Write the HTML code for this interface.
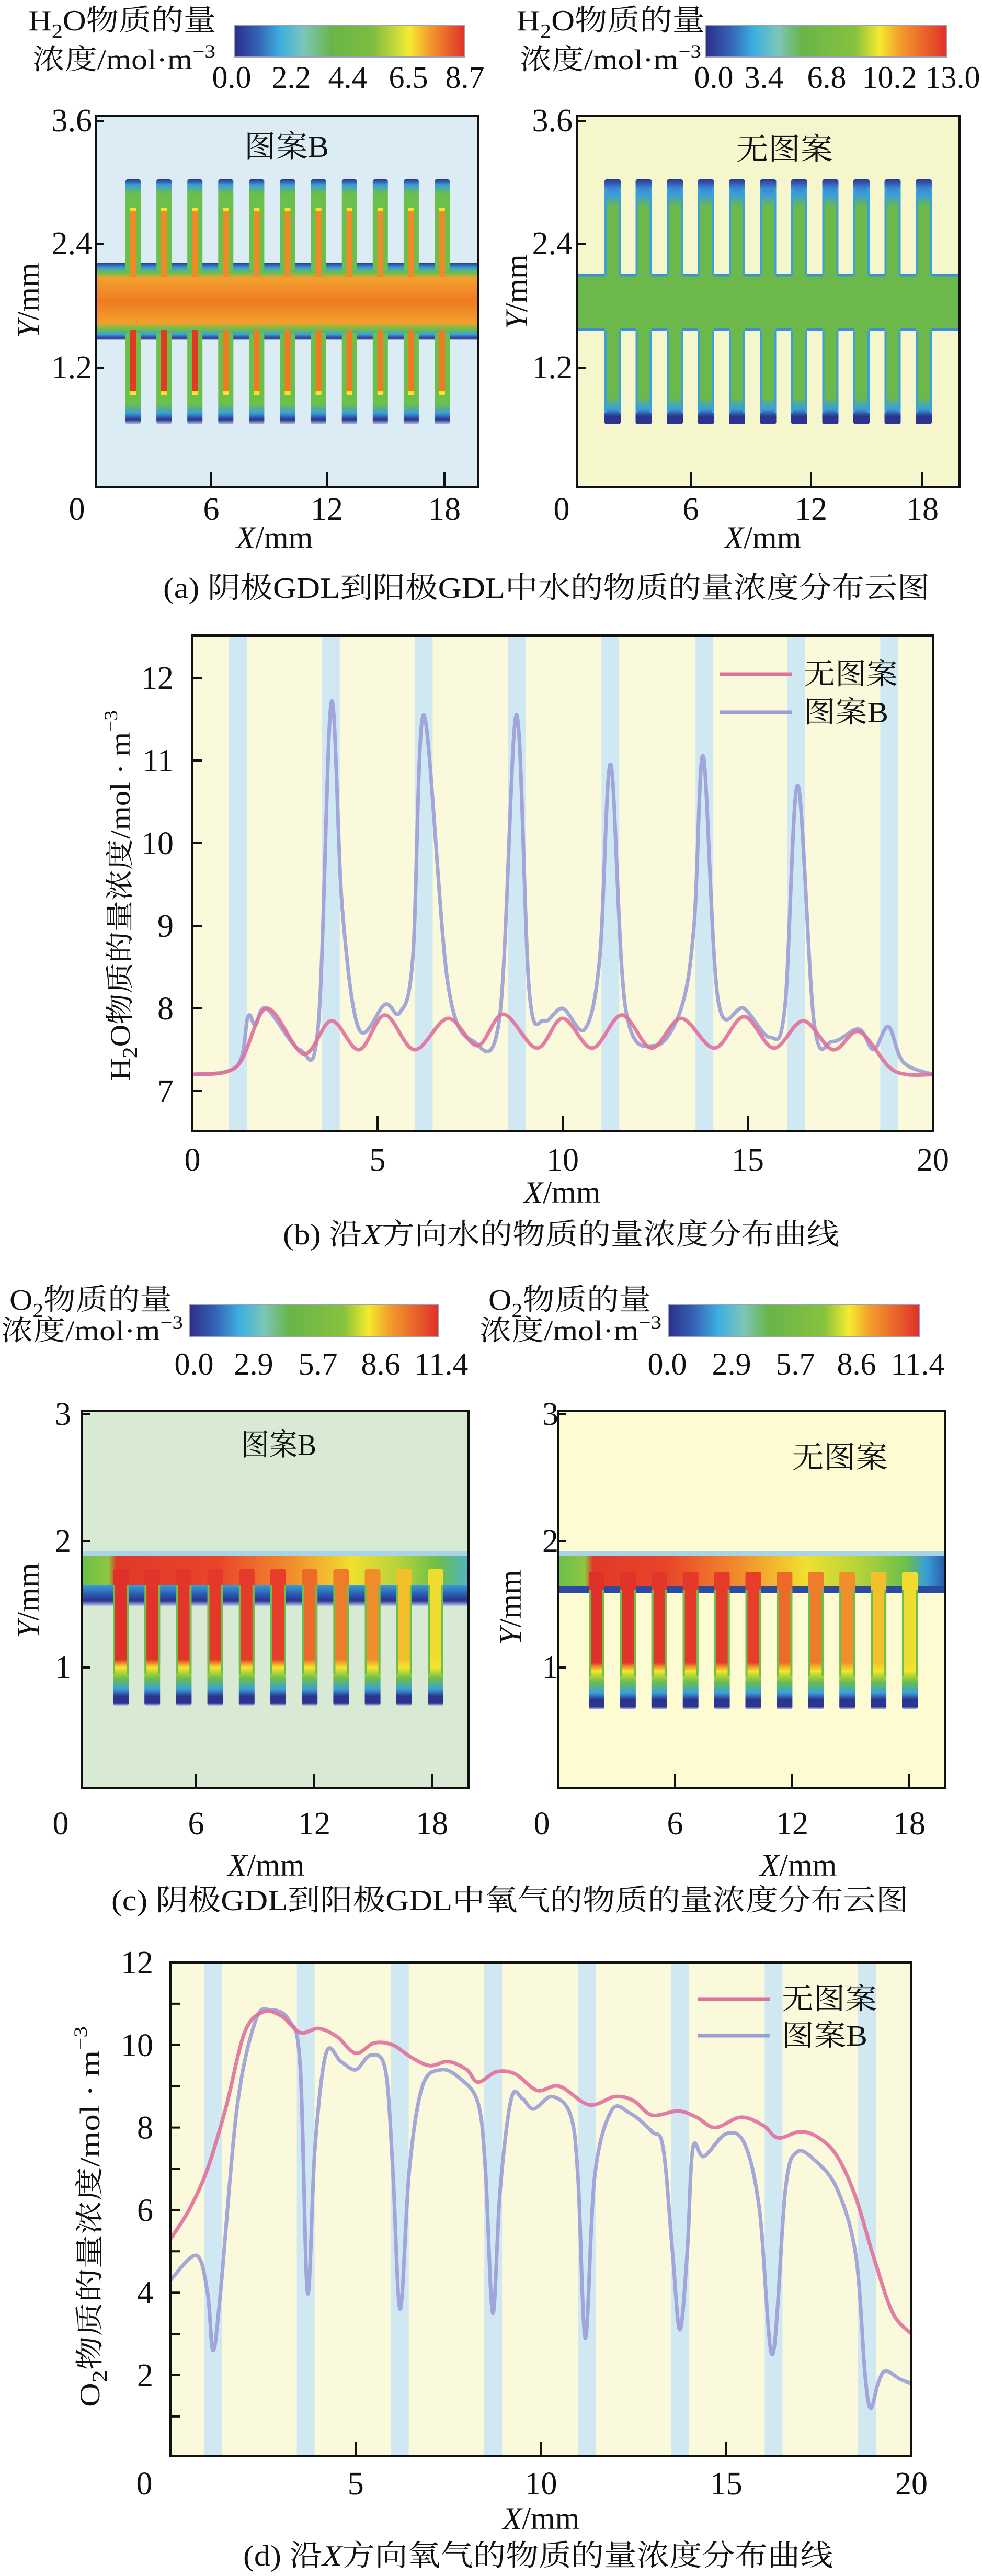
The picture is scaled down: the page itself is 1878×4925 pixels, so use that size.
<!DOCTYPE html>
<html><head><meta charset="utf-8">
<style>
html,body{margin:0;padding:0;background:#fff;}
svg{display:block;}
text{font-family:"Liberation Serif","Noto Serif CJK SC",serif;fill:#111;}
</style></head>
<body>
<svg id="root" width="1878" height="4925" viewBox="0 0 1878 4925" xmlns="http://www.w3.org/2000/svg">
<defs>
<linearGradient id="jetA" x1="0" x2="1" y1="0" y2="0">
<stop offset="0" stop-color="#2b2f8a"/><stop offset="0.1" stop-color="#3561b5"/><stop offset="0.2" stop-color="#3db0e0"/><stop offset="0.3" stop-color="#7cc6b8"/><stop offset="0.42" stop-color="#69b548"/><stop offset="0.6" stop-color="#7dbd3f"/><stop offset="0.72" stop-color="#d5e03a"/><stop offset="0.76" stop-color="#f6ea2e"/><stop offset="0.84" stop-color="#f3a02d"/><stop offset="1" stop-color="#e0302a"/>
</linearGradient>
<linearGradient id="jetB" x1="0" x2="1" y1="0" y2="0">
<stop offset="0" stop-color="#2b2f8a"/><stop offset="0.1" stop-color="#3561b5"/><stop offset="0.2" stop-color="#3db0e0"/><stop offset="0.3" stop-color="#7cc6b8"/><stop offset="0.4" stop-color="#69b548"/><stop offset="0.62" stop-color="#86c23e"/><stop offset="0.72" stop-color="#f6ea2e"/><stop offset="0.8" stop-color="#f3a02d"/><stop offset="1" stop-color="#e0302a"/>
</linearGradient>
<linearGradient id="bandA" x1="0" x2="0" y1="0" y2="1">
<stop offset="0" stop-color="#2b3590"/><stop offset="0.07" stop-color="#3a9fd8"/><stop offset="0.13" stop-color="#6cbf4a"/><stop offset="0.2" stop-color="#f3a030"/><stop offset="0.5" stop-color="#f07a22"/><stop offset="0.78" stop-color="#f3a030"/><stop offset="0.86" stop-color="#6cbf4a"/><stop offset="0.93" stop-color="#3a9fd8"/><stop offset="0.98" stop-color="#2b3590"/><stop offset="1" stop-color="#b8c8e8"/>
</linearGradient>
<linearGradient id="upFingA" x1="0" x2="0" y1="0" y2="1">
<stop offset="0" stop-color="#2b3590"/><stop offset="0.06" stop-color="#3a9fd8"/><stop offset="0.16" stop-color="#6cbf4a"/><stop offset="1" stop-color="#6cbf4a"/>
</linearGradient>
<linearGradient id="lowFingA" x1="0" x2="0" y1="0" y2="1">
<stop offset="0" stop-color="#6cbf4a"/><stop offset="0.78" stop-color="#6cbf4a"/><stop offset="0.88" stop-color="#3a9fd8"/><stop offset="0.95" stop-color="#2b3590"/><stop offset="1" stop-color="#b8c0e0"/>
</linearGradient>
<linearGradient id="upFingR" x1="0" x2="0" y1="0" y2="1">
<stop offset="0" stop-color="#2b3590"/><stop offset="0.08" stop-color="#3a7fd0"/><stop offset="0.16" stop-color="#3aa0d8"/><stop offset="0.28" stop-color="#6cb84a"/><stop offset="1" stop-color="#6cb84a"/>
</linearGradient>
<linearGradient id="lowFingR" x1="0" x2="0" y1="0" y2="1">
<stop offset="0" stop-color="#6cb84a"/><stop offset="0.72" stop-color="#6cb84a"/><stop offset="0.84" stop-color="#3aa0d8"/><stop offset="0.92" stop-color="#2b3590"/><stop offset="1" stop-color="#2b3590"/>
</linearGradient>
<linearGradient id="bandC1" x1="156" x2="896" y1="0" y2="0" gradientUnits="userSpaceOnUse">
<stop offset="0" stop-color="#6cbf4a"/><stop offset="0.07" stop-color="#8cc63f"/><stop offset="0.09" stop-color="#e03a28"/><stop offset="0.35" stop-color="#e8452a"/><stop offset="0.55" stop-color="#f3902d"/><stop offset="0.7" stop-color="#f0e030"/><stop offset="0.82" stop-color="#b5d23a"/><stop offset="0.92" stop-color="#6cbf4a"/><stop offset="1" stop-color="#4fb4c8"/>
</linearGradient>
<linearGradient id="bandC2" x1="1067" x2="1808" y1="0" y2="0" gradientUnits="userSpaceOnUse">
<stop offset="0" stop-color="#6cbf4a"/><stop offset="0.07" stop-color="#8cc63f"/><stop offset="0.09" stop-color="#e03a28"/><stop offset="0.28" stop-color="#e8452a"/><stop offset="0.48" stop-color="#f3902d"/><stop offset="0.64" stop-color="#f0e030"/><stop offset="0.78" stop-color="#b5d23a"/><stop offset="0.9" stop-color="#6cbf4a"/><stop offset="0.95" stop-color="#3a9fd8"/><stop offset="1" stop-color="#2b5aa8"/>
</linearGradient>
<linearGradient id="lowStrip" x1="0" x2="0" y1="0" y2="1">
<stop offset="0" stop-color="#3aa0d8"/><stop offset="0.45" stop-color="#2b5ab0"/><stop offset="0.75" stop-color="#2b3590"/><stop offset="1" stop-color="#b8c8e8"/>
</linearGradient>
</defs>
<g id="layer"></g>
</svg>
<script>
// ---------- chart data (b): H2O along X ----------
const h2oNoPatternX = [0,1.2,2.0,3.0,3.75,4.5,5.2,6.0,6.9,7.7,8.4,9.3,10.0,10.8,11.6,12.4,13.2,14.1,14.9,15.7,16.5,17.3,18.0,18.8,19.3,20];
const h2oNoPatternY = [7.2,7.3,8.0,7.45,7.85,7.5,7.92,7.5,7.88,7.55,7.93,7.52,7.88,7.52,7.92,7.52,7.88,7.52,7.9,7.52,7.85,7.5,7.72,7.3,7.2,7.2];
const h2oPatternBX = [0,1.2,1.5,1.7,2.0,2.9,3.4,3.75,4.05,4.5,5.2,5.6,5.95,6.25,6.9,7.6,8.3,8.75,9.1,9.5,10.0,10.6,11.0,11.3,11.7,12.5,13.2,13.55,13.8,14.2,14.9,15.6,16.0,16.35,16.8,17.3,18.0,18.4,18.8,19.2,20];
const h2oPatternBY = [7.2,7.3,7.9,7.8,8.0,7.5,7.8,11.7,9.2,7.75,8.05,7.95,8.6,11.55,8.3,7.6,7.9,11.55,8.2,7.85,8.0,7.75,8.6,10.95,8.0,7.55,8.0,9.0,11.05,8.1,8.0,7.65,8.0,10.7,7.8,7.6,7.75,7.5,7.78,7.35,7.2];
const h2oXTicks = [0,5,10,15,20];
const h2oYTicks = [7,8,9,10,11,12];
// ---------- chart data (d): O2 along X ----------
const o2NoPatternX = [0,0.5,1.0,1.5,2.0,2.5,3.0,3.5,4.0,4.5,5.0,5.5,6.0,6.5,7.0,7.5,8.0,8.3,8.8,9.3,9.9,10.5,11.3,12.0,12.5,13.0,13.7,14.2,14.7,15.4,16.0,16.4,17.0,17.5,18.0,18.5,19.0,19.5,20];
const o2NoPatternY = [5.3,6.0,7.0,8.5,10.3,10.8,10.7,10.3,10.4,10.2,9.8,10.05,10.0,9.7,9.5,9.6,9.4,9.1,9.35,9.3,8.9,9.0,8.55,8.75,8.65,8.3,8.4,8.25,8.0,8.25,8.05,7.75,7.9,7.75,7.3,6.3,4.8,3.5,3.0];
const o2PatternBX = [0,0.7,1.0,1.15,1.35,1.8,2.3,2.7,3.2,3.5,3.7,3.9,4.2,4.6,5.0,5.4,5.8,6.0,6.2,6.45,6.8,7.3,7.8,8.3,8.5,8.7,8.9,9.2,9.5,9.8,10.3,10.8,11.0,11.2,11.45,11.9,12.4,13.0,13.3,13.55,13.75,13.95,14.1,14.4,15.0,15.5,15.9,16.25,16.6,16.9,17.4,18.0,18.5,18.75,18.9,19.1,19.3,19.7,20];
const o2PatternBY = [4.3,4.9,4.0,2.6,4.0,8.5,10.6,10.85,10.6,9.5,4.0,7.5,9.8,9.6,9.4,9.75,9.4,7.0,3.6,7.0,9.0,9.4,9.2,8.6,7.0,3.5,6.5,8.7,8.7,8.45,8.75,8.3,6.8,2.9,6.8,8.4,8.35,7.9,7.5,5.0,3.1,5.0,7.5,7.3,7.85,7.6,6.0,2.5,6.5,7.4,7.2,6.5,4.9,2.0,1.2,1.8,2.1,1.9,1.8];
const o2XTicks = [0,5,10,15,20];
const o2YTicks = [1,2,3,4,5,6,7,8,9,10,11,12];
const o2YLabels = [2,4,6,8,10,12];
// channel (pattern) positions along X in mm
const channelsB = [1.23,3.74,6.25,8.76,11.29,13.83,16.31,18.82];
const channelsD = [1.15,3.65,6.19,8.71,11.24,13.76,16.28,18.8];

const NS = "http://www.w3.org/2000/svg";
const layer = document.getElementById('layer');
function mk(tag, attrs, parent){
  const e = document.createElementNS(NS, tag);
  for (const k in attrs) e.setAttribute(k, attrs[k]);
  (parent||layer).appendChild(e);
  return e;
}
function txt(s, x, y, size, opts, parent){
  opts = opts||{};
  const e = mk('text', {x:x, y:y, 'font-size':size, 'text-anchor':opts.anchor||'start'}, parent);
  if (opts.len){ e.setAttribute('textLength', opts.len); e.setAttribute('lengthAdjust','spacingAndGlyphs'); }
  if (opts.transform) e.setAttribute('transform', opts.transform);
  if (opts.weight) e.setAttribute('font-weight', opts.weight);
  e.innerHTML = s;
  return e;
}
function smoothPath(xs, ys, sx, sy){
  const p = xs.map((v,i)=>[sx(v), sy(ys[i])]);
  let d = 'M'+p[0][0].toFixed(1)+','+p[0][1].toFixed(1);
  for (let i=0;i<p.length-1;i++){
    const p0=p[i-1]||p[i], p1=p[i], p2=p[i+1], p3=p[i+2]||p[i+1];
    const t=1/6;
    const c1=[p1[0]+(p2[0]-p0[0])*t, p1[1]+(p2[1]-p0[1])*t];
    const c2=[p2[0]-(p3[0]-p1[0])*t, p2[1]-(p3[1]-p1[1])*t];
    d+=' C'+c1[0].toFixed(1)+','+c1[1].toFixed(1)+' '+c2[0].toFixed(1)+','+c2[1].toFixed(1)+' '+p2[0].toFixed(1)+','+p2[1].toFixed(1);
  }
  return d;
}

// ================= PANEL (a) =================
let e;
e = txt('H<tspan font-size="38" dy="14">2</tspan><tspan dy="-14">O物质的量</tspan>', 54, 58, 56, {len:359});


e = txt('浓度/mol·m<tspan font-size="36" dy="-22">−3</tspan>', 62, 132, 54, {len:350});


e = mk('rect',{x:449,y:49,width:440,height:60,fill:'url(#jetA)',stroke:'#9aa0b8','stroke-width':2});


[['0.0',443],['2.2',557],['4.4',665],['6.5',781],['8.7',889]].forEach(a=>{
  e = txt(a[0], a[1], 168, 60, {anchor:'middle'});
  
  
});
e = txt('H<tspan font-size="38" dy="14">2</tspan><tspan dy="-14">O物质的量</tspan>', 988, 58, 56, {len:360});


e = txt('浓度/mol·m<tspan font-size="36" dy="-22">−3</tspan>', 994, 132, 54, {len:347});


e = mk('rect',{x:1350,y:49,width:461,height:60,fill:'url(#jetB)',stroke:'#9aa0b8','stroke-width':2});


[['0.0',1365],['3.4',1461],['6.8',1581],['10.2',1701],['13.0',1822]].forEach(a=>{
  e = txt(a[0], a[1], 168, 60, {anchor:'middle'});
  
  
});

e = mk('rect',{x:183,y:222,width:731,height:709,fill:'#dcecf4'});


mk('rect',{x:183,y:502,width:731,height:148,fill:'url(#bandA)'});
for (let i=0;i<11;i++){
  const x = 240 + i*59.1;
  mk('rect',{x:x,y:343,width:29,height:175,rx:4,fill:'url(#upFingA)'});
  mk('rect',{x:x+9,y:398,width:11,height:8,fill:'#f5e52b'});
  mk('rect',{x:x+9,y:404,width:11,height:125,fill:'#f08a28'});
  mk('rect',{x:x,y:636,width:29,height:175,rx:4,fill:'url(#lowFingA)'});
  mk('rect',{x:x+9,y:630,width:11,height:118,fill: i<3 ? '#e23a22' : '#f07a22'});
  mk('rect',{x:x+9,y:748,width:11,height:8,fill:'#f5e52b'});
}
e = txt('图案B', 548, 300, 58, {anchor:'middle', len:162});



e = mk('rect',{x:1104,y:222,width:731,height:709,fill:'#f6f6cc'});


mk('rect',{x:1104,y:526,width:731,height:104,fill:'#6cb84a'});
mk('line',{x1:1104,x2:1835,y1:526,y2:526,stroke:'#3a8fd8','stroke-width':5});
mk('line',{x1:1104,x2:1835,y1:630,y2:630,stroke:'#3a8fd8','stroke-width':5});
for (let i=0;i<11;i++){
  const x = 1156 + i*59.5;
  mk('rect',{x:x,y:343,width:31,height:186,rx:4,fill:'url(#upFingR)'});
  mk('line',{x1:x+2,x2:x+2,y1:360,y2:526,stroke:'#3aa0d8','stroke-width':4});
  mk('line',{x1:x+29,x2:x+29,y1:360,y2:526,stroke:'#3aa0d8','stroke-width':4});
  mk('rect',{x:x,y:627,width:31,height:184,rx:4,fill:'url(#lowFingR)'});
  mk('line',{x1:x+2,x2:x+2,y1:632,y2:790,stroke:'#3aa0d8','stroke-width':4});
  mk('line',{x1:x+29,x2:x+29,y1:632,y2:790,stroke:'#3aa0d8','stroke-width':4});
}
e = txt('无图案', 1500, 305, 58, {anchor:'middle', len:185});



function contourAxes(x0, x1, y0, y1, yTicks, xTicks, xTickLblY, yLblX, prefix){
  e = mk('rect',{x:x0,y:y0,width:x1-x0,height:y1-y0,fill:'none',stroke:'#111','stroke-width':4});
  
  
  yTicks.forEach(t=>{
    mk('line',{x1:x0,x2:x0+16,y1:t[1],y2:t[1],stroke:'#111','stroke-width':4});
    e = txt(t[0], yLblX, t[1]+20, 62, {anchor:'end'});
    
    
  });
  xTicks.forEach(t=>{
    if (t[2]) mk('line',{x1:t[1],x2:t[1],y1:y1,y2:y1-28,stroke:'#111','stroke-width':4});
    e = txt(t[0], t[1], xTickLblY, 62, {anchor:'middle'});
    
    
  });
}
contourAxes(183,914,222,931,[['3.6',231],['2.4',466],['1.2',703]],[['0',147,0],['6',404,1],['12',625,1],['18',850,1]],994,176,'contour-a-left');
contourAxes(1104,1835,222,931,[['3.6',231],['2.4',466],['1.2',703]],[['0',1074,0],['6',1321,1],['12',1551,1],['18',1764,1]],994,1095,'contour-a-right');
e = txt('<tspan font-style="italic">Y</tspan>/mm', 0, 0, 60, {anchor:'middle', transform:'translate(74,574) rotate(-90)'});


e = txt('<tspan font-style="italic">Y</tspan>/mm', 0, 0, 60, {anchor:'middle', transform:'translate(1008,558) rotate(-90)'});


e = txt('<tspan font-style="italic">X</tspan>/mm', 525, 1048, 60, {anchor:'middle'});


e = txt('<tspan font-style="italic">X</tspan>/mm', 1459, 1048, 60, {anchor:'middle'});


e = txt('(a) 阴极GDL到阳极GDL中水的物质的量浓度分布云图', 312, 1143, 56, {len:1466});



// ================= CHART (b) =================
const bX0=368, bX1=1784, bY0=1215, bY1=2162;
const bx = v => bX0 + v*(bX1-bX0)/20;
const by = v => 1296 + (12-v)*158;
e = mk('rect',{x:bX0,y:bY0,width:bX1-bX0,height:bY1-bY0,fill:'#fbf9dc'});


channelsB.forEach(c=>{
  e = mk('rect',{x:bx(c)-17,y:bY0,width:34,height:bY1-bY0,fill:'#cfe8f1'});
  
  
});
e = mk('path',{d:smoothPath(h2oPatternBX,h2oPatternBY,bx,by),fill:'none',stroke:'#9b9dd6','stroke-width':7,'stroke-opacity':0.9,'stroke-linejoin':'round'});


e = mk('path',{d:smoothPath(h2oNoPatternX,h2oNoPatternY,bx,by),fill:'none',stroke:'#e0709c','stroke-width':7,'stroke-opacity':0.9,'stroke-linejoin':'round'});


e = mk('rect',{x:bX0,y:bY0,width:bX1-bX0,height:bY1-bY0,fill:'none',stroke:'#111','stroke-width':4});


h2oYTicks.forEach(v=>{
  mk('line',{x1:bX0,x2:bX0+18,y1:by(v),y2:by(v),stroke:'#111','stroke-width':4});
  e = txt(String(v), 332, by(v)+21, 62, {anchor:'end'});
  
  
});
h2oXTicks.forEach(v=>{
  if (v>0 && v<20) mk('line',{x1:bx(v),x2:bx(v),y1:bY1,y2:bY1-28,stroke:'#111','stroke-width':4});
  e = txt(String(v), bx(v), 2238, 62, {anchor:'middle'});
  
  
});
e = txt('<tspan font-style="italic">X</tspan>/mm', 1075, 2300, 60, {anchor:'middle'});


e = txt('H<tspan font-size="40" dy="14">2</tspan><tspan dy="-14">O物质的量浓度/mol · m</tspan><tspan font-size="36" dy="-24">−3</tspan>', 0, 0, 54, {anchor:'middle', len:708, transform:'translate(248,1712) rotate(-90)'});


e = mk('line',{x1:1377,x2:1515,y1:1289,y2:1289,stroke:'#e0709c','stroke-width':7});


e = txt('无图案', 1537, 1308, 56, {len:180});


e = mk('line',{x1:1377,x2:1515,y1:1362,y2:1362,stroke:'#9b9dd6','stroke-width':7});


e = txt('图案B', 1537, 1381, 56, {len:162});


e = txt('(b) 沿<tspan font-style="italic">X</tspan>方向水的物质的量浓度分布曲线', 541, 2379, 56, {len:1064});



// ================= PANEL (c) =================
e = txt('O<tspan font-size="38" dy="14">2</tspan><tspan dy="-14">物质的量</tspan>', 18, 2504, 56, {len:311});


e = txt('浓度/mol·m<tspan font-size="36" dy="-22">−3</tspan>', 2, 2562, 54, {len:348});


e = mk('rect',{x:363,y:2494,width:475,height:62,fill:'url(#jetB)',stroke:'#9aa0b8','stroke-width':2});


[['0.0',371],['2.9',485],['5.7',608],['8.6',728],['11.4',844]].forEach(a=>{
  e = txt(a[0], a[1], 2628, 60, {anchor:'middle'});
  
  
});
e = txt('O<tspan font-size="38" dy="14">2</tspan><tspan dy="-14">物质的量</tspan>', 934, 2504, 56, {len:311});


e = txt('浓度/mol·m<tspan font-size="36" dy="-22">−3</tspan>', 917, 2562, 54, {len:348});


e = mk('rect',{x:1278,y:2494,width:480,height:62,fill:'url(#jetB)',stroke:'#9aa0b8','stroke-width':2});


[['0.0',1276],['2.9',1399],['5.7',1521],['8.6',1638],['11.4',1755]].forEach(a=>{
  e = txt(a[0], a[1], 2628, 60, {anchor:'middle'});
  
  
});
function mix(a,b,t){
  const pa=[parseInt(a.slice(1,3),16),parseInt(a.slice(3,5),16),parseInt(a.slice(5,7),16)];
  const pb=[parseInt(b.slice(1,3),16),parseInt(b.slice(3,5),16),parseInt(b.slice(5,7),16)];
  return 'rgb('+pa.map((v,i)=>Math.round(v+(pb[i]-v)*t)).join(',')+')';
}
function fingerGrad(id, top){
  const defs = document.querySelector('defs');
  const g = document.createElementNS(NS,'linearGradient');
  g.setAttribute('id',id); g.setAttribute('x1','0'); g.setAttribute('x2','0'); g.setAttribute('y1','0'); g.setAttribute('y2','1');
  [[0,top],[0.66,top],[0.72,'#f5e52b'],[0.8,'#6cbf4a'],[0.88,'#3aa0d8'],[0.93,'#2b3590'],[0.98,'#2b3590'],[1,'#c0c8e8']].forEach(s=>{
    const st=document.createElementNS(NS,'stop'); st.setAttribute('offset',s[0]); st.setAttribute('stop-color',s[1]); g.appendChild(st);
  });
  defs.appendChild(g);
}
function topColor(i){
  if (i<6) return mix('#e0302a','#e8402a',i/6);
  if (i<9) return mix('#ec6a2a','#f3a02d',(i-6)/3);
  return mix('#f3c02d','#eedc30',(i-9));
}
e = mk('rect',{x:156,y:2697,width:740,height:722,fill:'#d8ead3'});


mk('rect',{x:156,y:2966,width:740,height:8,fill:'#a9d4e8'});
mk('rect',{x:156,y:2974,width:740,height:58,fill:'url(#bandC1)'});
mk('rect',{x:156,y:3030,width:740,height:40,fill:'url(#lowStrip)'});
for (let i=0;i<11;i++){
  const x = 216 + i*60.2;
  fingerGrad('fc1_'+i, topColor(i));
  mk('rect',{x:x,y:3000,width:30,height:261,rx:4,fill:'url(#fc1_'+i+')'});
  mk('line',{x1:x+2,x2:x+2,y1:3030,y2:3200,stroke:'#6cbf4a','stroke-width':4});
  mk('line',{x1:x+28,x2:x+28,y1:3030,y2:3200,stroke:'#6cbf4a','stroke-width':4});
}
e = txt('图案B', 533, 2782, 58, {anchor:'middle', len:144});


e = mk('rect',{x:1067,y:2697,width:741,height:722,fill:'#fdfbd2'});


mk('rect',{x:1067,y:2966,width:741,height:8,fill:'#a9d4e8'});
mk('rect',{x:1067,y:2974,width:741,height:62,fill:'url(#bandC2)'});
mk('rect',{x:1067,y:3033,width:741,height:12,fill:'#2b4aa0'});
for (let i=0;i<11;i++){
  const x = 1126 + i*59.9;
  fingerGrad('fc2_'+i, topColor(i));
  mk('rect',{x:x,y:3005,width:30,height:263,rx:4,fill:'url(#fc2_'+i+')'});
  mk('line',{x1:x+2,x2:x+2,y1:3040,y2:3205,stroke:'#6cbf4a','stroke-width':4});
  mk('line',{x1:x+28,x2:x+28,y1:3040,y2:3205,stroke:'#6cbf4a','stroke-width':4});
}
e = txt('无图案', 1606, 2806, 58, {anchor:'middle', len:183});


contourAxes(156,896,2697,3419,[['3',2704],['2',2947],['1',3188]],[['0',116,0],['6',375,1],['12',601,1],['18',826,1]],3507,136,'contour-c-left');
contourAxes(1067,1808,2697,3419,[['3',2704],['2',2947],['1',3188]],[['0',1036,0],['6',1291,1],['12',1515,1],['18',1739,1]],3507,1068,'contour-c-right');
e = txt('<tspan font-style="italic">Y</tspan>/mm', 0, 0, 60, {anchor:'middle', transform:'translate(74,3060) rotate(-90)'});


e = txt('<tspan font-style="italic">Y</tspan>/mm', 0, 0, 60, {anchor:'middle', transform:'translate(996,3073) rotate(-90)'});


e = txt('<tspan font-style="italic">X</tspan>/mm', 509, 3586, 60, {anchor:'middle'});


e = txt('<tspan font-style="italic">X</tspan>/mm', 1527, 3586, 60, {anchor:'middle'});


e = txt('(c) 阴极GDL到阳极GDL中氧气的物质的量浓度分布云图', 213, 3652, 56, {len:1524});



// ================= CHART (d) =================
const dX0=326, dX1=1743, dY0=3752, dY1=4696;
const dx = v => dX0 + v*(dX1-dX0)/20;
const dy = v => dY0 + (12-v)*78.9;
e = mk('rect',{x:dX0,y:dY0,width:dX1-dX0,height:dY1-dY0,fill:'#fbf9dc'});


channelsD.forEach(c=>{
  e = mk('rect',{x:dx(c)-17,y:dY0,width:34,height:dY1-dY0,fill:'#cfe8f1'});
  
  
});
e = mk('path',{d:smoothPath(o2PatternBX,o2PatternBY,dx,dy),fill:'none',stroke:'#9b9dd6','stroke-width':7,'stroke-opacity':0.9,'stroke-linejoin':'round'});


e = mk('path',{d:smoothPath(o2NoPatternX,o2NoPatternY,dx,dy),fill:'none',stroke:'#e0709c','stroke-width':7,'stroke-opacity':0.9,'stroke-linejoin':'round'});


e = mk('rect',{x:dX0,y:dY0,width:dX1-dX0,height:dY1-dY0,fill:'none',stroke:'#111','stroke-width':4});


o2YTicks.forEach(v=>{
  mk('line',{x1:dX0,x2:dX0+18,y1:dy(v),y2:dy(v),stroke:'#111','stroke-width':4});
});
o2YLabels.forEach(v=>{
  e = txt(String(v), 293, dy(v)+21, 62, {anchor:'end'});
  
  
});
o2XTicks.forEach(v=>{
  if (v>0 && v<20) mk('line',{x1:dx(v),x2:dx(v),y1:dY1,y2:dY1-28,stroke:'#111','stroke-width':4});
  e = txt(String(v), dx(v) - (v===0?50:0), 4769, 62, {anchor:'middle'});
  
  
});
e = txt('<tspan font-style="italic">X</tspan>/mm', 1035, 4835, 60, {anchor:'middle'});


e = txt('O<tspan font-size="40" dy="14">2</tspan><tspan dy="-14">物质的量浓度/mol · m</tspan><tspan font-size="36" dy="-24">−3</tspan>', 0, 0, 54, {anchor:'middle', len:728, transform:'translate(190,4238) rotate(-90)'});


e = mk('line',{x1:1335,x2:1473,y1:3822,y2:3822,stroke:'#e0709c','stroke-width':7});


e = txt('无图案', 1495, 3841, 56, {len:182});


e = mk('line',{x1:1335,x2:1473,y1:3892,y2:3892,stroke:'#9b9dd6','stroke-width':7});


e = txt('图案B', 1495, 3911, 56, {len:164});


e = txt('(d) 沿<tspan font-style="italic">X</tspan>方向氧气的物质的量浓度分布曲线', 465, 4905, 56, {len:1128});


</script>
</body></html>
